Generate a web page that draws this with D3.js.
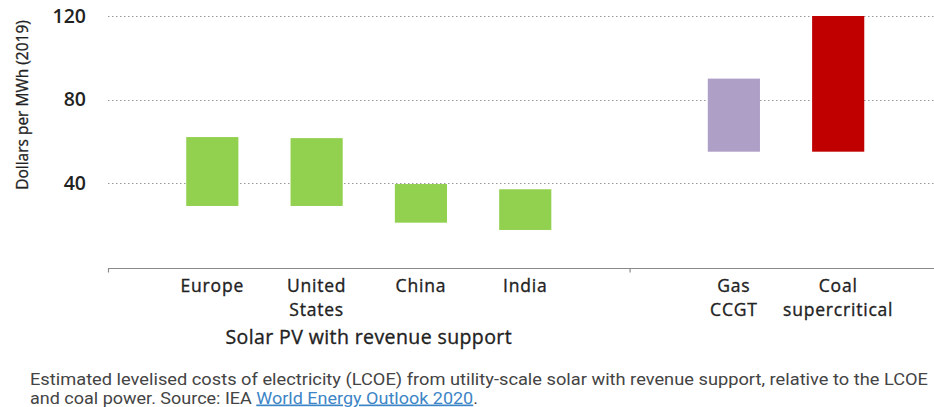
<!DOCTYPE html>
<html>
<head>
<meta charset="utf-8">
<script src="https://cdn.jsdelivr.net/npm/d3@7"></script>
<style>
  html, body { margin: 0; padding: 0; background: #fff; }
  svg { display: block; }
</style>
</head>
<body>
<div id="chart"></div>
<script>
// LCOE ranges, dollars per MWh (2019)
const categories = ["Europe", "United States", "China", "India", "Gas CCGT", "Coal supercritical"];
const labelLines = [["Europe"], ["United", "States"], ["China"], ["India"], ["Gas", "CCGT"], ["Coal", "supercritical"]];
const lowValues  = [29, 29, 21, 17.5, 55, 55];
const highValues = [62, 61.5, 39.5, 37, 90, 120];
const barColors  = ["#92d050", "#92d050", "#92d050", "#92d050", "#ae9fc6", "#c00000"];
const yTicks = [40, 80, 120];
const groupTitle = "Solar PV with revenue support";
const yTitle = "Dollars per MWh (2019)";

// slot layout along the category axis: a leading gap, the solar group, a separator, the fossil group
const slots = ["start", "Europe", "United States", "China", "India", "sep", "Gas CCGT", "Coal supercritical", "end"];

const W = 934, H = 407;
const svg = d3.select("#chart").append("svg").attr("width", W).attr("height", H);

const x = d3.scalePoint().domain(slots).range([108, 942.5]);
const y = d3.scaleLinear().domain([0, 120]).range([266.5, 16]);
const barW = x.step() / 2;

const chartFont = "'Open Sans', sans-serif";
const ink = "#222";

// dotted gridlines
svg.append("g")
  .selectAll("line")
  .data(yTicks)
  .join("line")
  .attr("x1", 108).attr("x2", W)
  .attr("y1", d => Math.round(y(d)) + 0.5).attr("y2", d => Math.round(y(d)) + 0.5)
  .attr("stroke", "#9a9a9a")
  .attr("stroke-width", 1.2)
  .attr("stroke-dasharray", "1.5,2.5");

// y tick labels
const yAxis = d3.axisLeft(y).tickValues(yTicks).tickSize(0).tickPadding(0);
const gy = svg.append("g").attr("transform", "translate(86,0)").call(yAxis);
gy.select(".domain").remove();
gy.selectAll("text")
  .attr("font-family", chartFont)
  .attr("font-size", 19.5)
  .attr("font-weight", 600)
  .attr("fill", ink);

// y axis title
svg.append("text")
  .attr("transform", `translate(28,${(15 + 195) / 2}) rotate(-90)`)
  .attr("text-anchor", "middle")
  .attr("font-family", chartFont)
  .attr("font-size", 15.5)
  .attr("fill", ink)
  .attr("stroke", ink)
  .attr("stroke-width", 0.3)
  .text(yTitle);

// range bars
svg.append("g")
  .selectAll("rect")
  .data(categories)
  .join("rect")
  .attr("x", (d) => x(d) - barW / 2)
  .attr("width", barW)
  .attr("y", (d, i) => y(highValues[i]))
  .attr("height", (d, i) => y(lowValues[i]) - y(highValues[i]))
  .attr("fill", (d, i) => barColors[i]);

// category axis
const axisY = 268.5;
svg.append("line")
  .attr("x1", 108).attr("x2", W)
  .attr("y1", axisY).attr("y2", axisY)
  .attr("stroke", "#8a8a8a").attr("stroke-width", 1.2);
svg.append("g")
  .selectAll("line")
  .data(["start", "sep"])
  .join("line")
  .attr("x1", d => x(d) + 0.5).attr("x2", d => x(d) + 0.5)
  .attr("y1", axisY).attr("y2", axisY + 4)
  .attr("stroke", "#8a8a8a").attr("stroke-width", 1.2);

// category labels, one text per line
const labelData = categories.flatMap((c, i) => labelLines[i].map((t, j) => ({ c, t, j })));
svg.append("g")
  .selectAll("text")
  .data(labelData)
  .join("text")
  .attr("x", d => x(d.c))
  .attr("y", d => 292 + d.j * 24)
  .attr("text-anchor", "middle")
  .attr("font-family", chartFont)
  .attr("font-size", 17.5)
  .attr("letter-spacing", 0.8)
  .attr("fill", ink)
  .attr("stroke", ink)
  .attr("stroke-width", 0.35)
  .text(d => d.t);

// group title
svg.append("text")
  .attr("x", (x("start") + x("sep")) / 2)
  .attr("y", 344)
  .attr("text-anchor", "middle")
  .attr("font-family", chartFont)
  .attr("font-size", 19.5)
  .attr("letter-spacing", 0.4)
  .attr("fill", ink)
  .attr("stroke", ink)
  .attr("stroke-width", 0.35)
  .text(groupTitle);

// caption
const capFont = "'Liberation Sans Narrow', 'Roboto', sans-serif";
svg.append("text")
  .attr("x", 30).attr("y", 385)
  .attr("font-family", capFont)
  .attr("font-size", 17)
  .attr("fill", "#444")
  .attr("textLength", 898)
  .attr("lengthAdjust", "spacingAndGlyphs")
  .text("Estimated levelised costs of electricity (LCOE) from utility-scale solar with revenue support, relative to the LCOE");
const cap2 = svg.append("text")
  .attr("x", 30).attr("y", 403.5)
  .attr("font-family", capFont)
  .attr("font-size", 17)
  .attr("fill", "#444")
  .attr("textLength", 448)
  .attr("lengthAdjust", "spacingAndGlyphs");
cap2.append("tspan").text("and coal power. Source: IEA ");
cap2.append("tspan")
  .attr("fill", "#3d85c6")
  .attr("text-decoration", "underline")
  .text("World Energy Outlook 2020");
cap2.append("tspan").text(".");
</script>
</body>
</html>
